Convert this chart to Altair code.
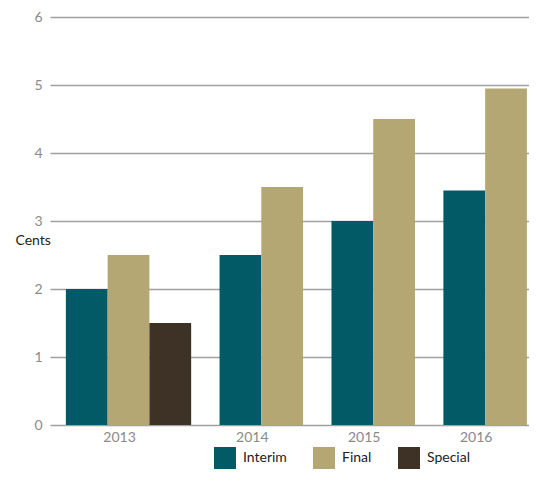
import altair as alt
import pandas as pd

years = ["2013", "2014", "2015", "2016"]
series = ["Interim", "Final", "Special"]
interim = [2.0, 2.5, 3.0, 3.45]
final = [2.5, 3.5, 4.5, 4.95]
special = [1.5, None, None, None]
colors = ["#015a66", "#b5a773", "#3e3125"]
y_ticks = [0, 1, 2, 3, 4, 5, 6]

# layout (in bar-width units)
GAP = 0.68
LEAD = 0.38
TRAIL = 0.05

rows, labels = [], []
pos = 0.0
for i, yr in enumerate(years):
    start = pos
    for s, v in zip(series, [interim[i], final[i], special[i]]):
        if v is None:
            continue
        rows.append({"year": yr, "series": s, "value": v, "x0": pos, "x1": pos + 1})
        pos += 1
    labels.append({"year": yr, "xc": (start + pos) / 2})
    pos += GAP
end = pos - GAP

bars_df = pd.DataFrame(rows)
labels_df = pd.DataFrame(labels)

W, H = 479, 408
FONT = "Lato"

xscale = alt.Scale(domain=[-LEAD, end + TRAIL], nice=False, zero=False)

bars = alt.Chart(bars_df).mark_bar(strokeWidth=0).encode(
    x=alt.X("x0:Q", scale=xscale, axis=None),
    x2="x1:Q",
    y=alt.Y(
        "value:Q",
        scale=alt.Scale(domain=[0, 6], nice=False),
        axis=alt.Axis(
            values=y_ticks,
            grid=True,
            gridColor="#a0a0a0",
            gridWidth=1.6,
            domain=False,
            ticks=False,
            labelPadding=8,
            labelColor="#8a8a8a",
            labelFontSize=14,
            labelFont=FONT,
            title="Cents",
            titleAngle=0,
            titleX=-35,
            titleY=223,
            titleAlign="left",
            titleBaseline="middle",
            titleFontWeight="normal",
            titleFontSize=14,
            titleFont=FONT,
            titleColor="#222222",
        ),
    ),
    y2=alt.datum(0),
    color=alt.Color(
        "series:N",
        scale=alt.Scale(domain=series, range=colors),
        legend=alt.Legend(
            orient="none",
            legendX=164,
            legendY=430,
            direction="horizontal",
            title=None,
            symbolType="square",
            symbolSize=484,
            symbolStrokeWidth=0,
            symbolOpacity=1,
            labelFontSize=14,
            labelFont=FONT,
            labelColor="#222222",
            labelOffset=7,
            columnPadding=26,
        ),
    ),
)

year_text = alt.Chart(labels_df).mark_text(
    fontSize=14, font=FONT, color="#8a8a8a", baseline="middle", align="center", dx=-9
).encode(
    x=alt.X("xc:Q", scale=xscale),
    y=alt.value(H + 13),
    text="year:N",
)

chart = (
    alt.layer(bars, year_text)
    .properties(
        width=W,
        height=H,
        autosize=alt.AutoSizeParams(type="none"),
        padding={"left": 42, "top": 9, "right": 0, "bottom": 45},
    )
    .configure_view(strokeWidth=0)
)

chart.save("out.html", embed_options={"renderer": "svg", "actions": False})
